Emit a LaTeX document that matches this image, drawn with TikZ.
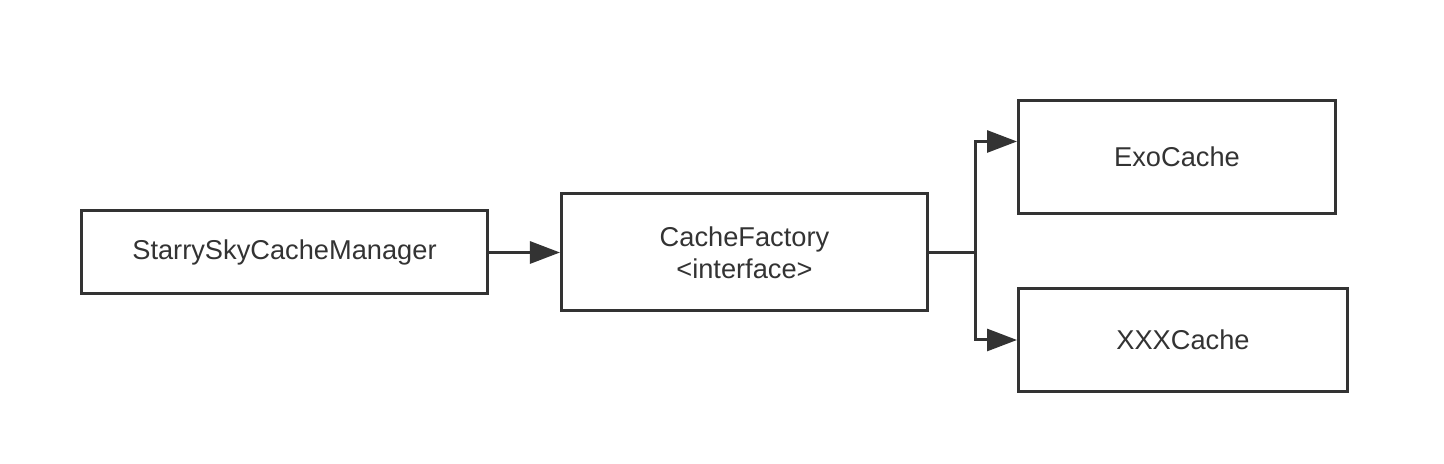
\documentclass[tikz,border=0pt]{standalone}
\usepackage{fontspec}
\setmainfont{Liberation Sans}
\usepackage{tikz}
\usetikzlibrary{arrows.meta, positioning}
\definecolor{linegray}{HTML}{333333}

\begin{document}
\begin{tikzpicture}[
        font=\fontsize{15.5pt}{18.2pt}\selectfont,
        box/.style={
            draw=linegray,
            line width=1.7pt,
            text=linegray,
            align=center,
            inner sep=0pt
        },
        arrow/.style={-{Triangle[length=0.6cm, width=0.44cm]}, line width=1.7pt, draw=linegray}
    ]
        \useasboundingbox (0,0) rectangle (28.88,-9.28);

        \node[box, minimum width=8.12cm, minimum height=1.66cm, anchor=west] (manager) at (1.6,-5.05) {StarrySkyCacheManager};
        \node[box, minimum width=7.32cm, minimum height=2.34cm, right=1.42cm of manager] (factory) {CacheFactory\\<interface>};
        \node[box, minimum width=6.34cm, minimum height=2.26cm, anchor=north west] (exo) at (20.34,-1.98) {ExoCache};
        \node[box, minimum width=6.58cm, minimum height=2.06cm, anchor=north west] (xxx) at (20.34,-5.74) {XXXCache};

        \coordinate[right=0.94cm of factory.east] (branch);

        \draw[arrow] (manager) -- (factory);
        \draw[line width=1.7pt, draw=linegray] (factory.east) -- (branch);
        \draw[arrow] (branch) |- ([yshift=0.31cm]exo.west);
        \draw[arrow] (branch) |- (xxx.west);
    \end{tikzpicture}
\end{document}
